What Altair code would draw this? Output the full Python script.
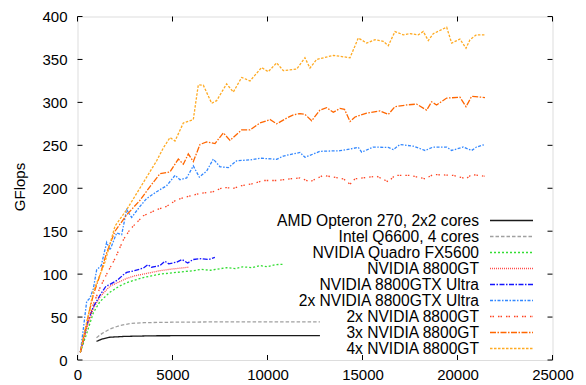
import altair as alt
import pandas as pd

series_names = [
    "AMD Opteron 270, 2x2 cores",
    "Intel Q6600, 4 cores",
    "NVIDIA Quadro FX5600",
    "NVIDIA 8800GT",
    "NVIDIA 8800GTX Ultra",
    "2x NVIDIA 8800GTX Ultra",
    "2x NVIDIA 8800GT",
    "3x NVIDIA 8800GT",
    "4x NVIDIA 8800GT",
]
colors = ["#1a1a1a", "#a0a0a0", "#33dd33", "#ff4d4d", "#1414ff",
          "#3388ff", "#ff4422", "#ff6600", "#ffaa22"]
dashes = [[1, 0], [3.5, 2], [2, 2], [1, 1], [5, 1.5, 1.5, 1.5],
          [3, 1.5, 1.5, 1.5], [1.5, 1, 1.5, 4], [6, 1.5, 1.5, 1.5], [2.5, 1.5]]

amd_x = [1000, 1300, 1700, 2500, 4000, 8000, 12760]
amd_y = [21.7, 24.5, 26.5, 27.5, 28.2, 28.5, 28.5]

intel_x = [1000, 1300, 1700, 2200, 2800, 3500, 5000, 8000, 12760]
intel_y = [26, 31, 36, 40, 42.5, 43.5, 44, 44.5, 44.5]

quadro_x = [150, 500, 833, 1180, 1710, 2200, 2590, 3000, 3460, 3900, 4340, 5200,
            6090, 6500, 7000, 7850, 8300, 8700, 9200, 9600, 10000, 10400, 10830]
quadro_y = [9, 32, 55, 68, 79, 86, 90, 93, 96, 98, 100, 102,
            104, 105.5, 104.5, 107.5, 106.5, 108.5, 107.5, 110, 108.5, 111, 111.5]

gt_x = [150, 500, 833, 1200, 1710, 2200, 2590, 3000, 3460, 3900, 4340, 5000, 5830]
gt_y = [9, 38, 60, 74, 86, 91, 95, 98, 100, 102, 104, 106, 108]

ultra_x = [150, 500, 833, 1200, 1500, 1710, 2100, 2400, 2590, 3000, 3460, 3700,
           3900, 4340, 4600, 4800, 5220, 5500, 5800, 6090, 6500, 6900, 7230]
ultra_y = [9, 42, 62, 76, 86, 88, 93, 99, 102, 104, 107, 111,
           108, 110, 115, 112, 114, 117, 113, 117, 118, 117, 119.5]

ultra2_x = [150, 300, 482, 650, 833, 1008, 1250, 1535, 1710, 2062,
            2325, 2588, 2850, 3290, 3640, 4167, 4693, 5132, 5394, 5745,
            6095, 6412, 6797, 7148, 7499, 7937, 8376, 9077, 9603, 10480,
            10830, 11710, 11973, 12760, 13814, 14780, 14955, 15570, 16358, 16620,
            16970, 17670, 18290, 18726, 19430, 19690, 20300, 20745, 21000, 21447]
ultra2_y = [9, 35, 68, 72, 83, 105, 110, 137, 128, 148,
            146, 175, 166, 179, 188, 196, 203, 215, 210, 212,
            226, 213, 220, 234, 225, 224, 232, 233, 235, 233.7,
            237.5, 241.7, 236, 243, 243.7, 247.5, 242, 248, 247.5, 245,
            251, 249, 244, 248, 248, 244, 248, 244, 248, 251]

gt2_x = [150, 500, 833, 1200, 1535, 1974, 2413, 2763, 3464, 4167,
         4693, 5218, 5745, 6446, 7148, 7674, 8200, 8640, 9165, 9780,
         10480, 11180, 11710, 12237, 12935, 13990, 14342, 14605, 15745, 16358,
         16710, 17500, 18290, 18726, 19780, 20447, 20745, 21447]
gt2_y = [9, 40, 65, 85, 100, 118, 140, 152, 168, 175,
         179, 186.6, 190, 194, 196, 201, 200, 203, 205, 209,
         209, 211, 212, 207.6, 215, 211, 204.6, 211, 214, 207.6,
         215, 215, 211, 216, 215, 211, 216, 214]

gt3_x = [150, 500, 833, 1200, 1535, 1974, 2588, 3290, 3816, 4342,
         4868, 5306, 5570, 5833, 6095, 6446, 6797, 7236, 7674, 8026,
         8640, 9080, 9605, 10130, 10480, 11010, 11360, 11710, 11970, 12325,
         12760, 13112, 13463, 13814, 14050, 14342, 14605, 15220, 15920, 16358,
         16710, 17325, 17850, 18375, 18640, 18900, 19430, 20130, 20447, 20745,
         21447]
gt3_y = [9, 45, 76, 100, 125, 150, 169, 186, 202, 217,
         219, 234, 228, 240, 231, 251, 254, 252, 264.5, 255.8,
         268, 268, 276, 280, 275, 281.7, 285.5, 287, 286, 278.6,
         291, 293.8, 288.5, 293, 292, 277.8, 283, 287.4, 290, 286,
         295, 297, 298, 291, 300.6, 297, 305, 306, 295, 307,
         305.6]

gt4_x = [150, 500, 833, 1200, 1447, 1974, 2588, 3114, 3640, 4167,
         4518, 4868, 5132, 5570, 6095, 6359, 6622, 7060, 7323, 7850,
         8200, 8640, 9080, 9690, 10040, 10480, 10830, 11535, 11970, 12235,
         12589, 13463, 14342, 14780, 15220, 15660, 16095, 16358, 16710, 17148,
         17500, 17937, 18200, 18463, 18726, 19430, 19693, 20130, 20447, 20657,
         21000, 21447]
gt4_y = [9, 45, 80, 100, 114, 156, 175, 194, 213, 232,
         247, 259, 255, 276, 280, 320.5, 320, 299, 302, 321.6,
         312, 329, 325, 340.6, 335.7, 346, 337, 338.8, 352, 340,
         350, 354.7, 352, 375, 369, 373, 371, 366, 382.5, 378.7,
         380, 378.7, 382.5, 372, 380, 387.5, 369, 373.7, 363, 373,
         378.7, 378.7]

x_ticks = [0, 5000, 10000, 15000, 20000, 25000]
y_ticks = [0, 50, 100, 150, 200, 250, 300, 350, 400]

all_x = [amd_x, intel_x, quadro_x, gt_x, ultra_x, ultra2_x, gt2_x, gt3_x, gt4_x]
all_y = [amd_y, intel_y, quadro_y, gt_y, ultra_y, ultra2_y, gt2_y, gt3_y, gt4_y]

rows = []
for name, xs, ys in zip(series_names, all_x, all_y):
    for i, (xv, yv) in enumerate(zip(xs, ys)):
        rows.append({"series": name, "size": xv, "gflops": yv, "order": i})
df = pd.DataFrame(rows)
legend_df = pd.DataFrame({"series": series_names})

W, H = 475, 343.5
FONT = "Liberation Sans"
TL = 5

xscale = alt.Scale(domain=[0, 25000], nice=False, zero=False)
yscale = alt.Scale(domain=[0, 400], nice=False, zero=False)
cscale = alt.Scale(domain=series_names, range=colors)
dscale = alt.Scale(domain=series_names, range=dashes)

x_axis = alt.Axis(values=x_ticks, title=None, ticks=False, tickSize=0,
                  domain=False, grid=False, labelPadding=7,
                  labelFontSize=15, labelFont=FONT, labelColor="black",
                  labelFlush=False, format="d")
y_axis = alt.Axis(values=y_ticks, title="GFlops", ticks=False, tickSize=0,
                  domain=False, grid=False, labelPadding=10.5,
                  labelFontSize=15, labelFont=FONT, labelColor="black",
                  titleFont=FONT, titleFontSize=15, titleFontWeight="normal",
                  titleColor="black", titleAngle=270, titleX=-58,
                  titleY=170, titleAlign="center", titleBaseline="middle",
                  format="d")

lines = alt.Chart(df).mark_line(strokeWidth=1.3).encode(
    x=alt.X("size:Q", scale=xscale, axis=x_axis),
    y=alt.Y("gflops:Q", scale=yscale, axis=y_axis),
    color=alt.Color("series:N", scale=cscale, legend=None),
    strokeDash=alt.StrokeDash("series:N", scale=dscale, legend=None),
    order="order:Q",
)

xt = pd.DataFrame({"t": x_ticks})
yt = pd.DataFrame({"t": y_ticks})

tick_bottom = alt.Chart(xt).mark_rule(color="black", strokeWidth=1).encode(
    x=alt.X("t:Q", scale=xscale, axis=x_axis), y=alt.value(H), y2=alt.value(H - TL))
tick_top = alt.Chart(xt).mark_rule(color="black", strokeWidth=1).encode(
    x=alt.X("t:Q", scale=xscale, axis=x_axis), y=alt.value(0), y2=alt.value(TL))
tick_left = alt.Chart(yt).mark_rule(color="black", strokeWidth=1).encode(
    y=alt.Y("t:Q", scale=yscale, axis=None), x=alt.value(0), x2=alt.value(TL))
tick_right = alt.Chart(yt).mark_rule(color="black", strokeWidth=1).encode(
    y=alt.Y("t:Q", scale=yscale, axis=None), x=alt.value(W), x2=alt.value(W - TL))

leg_y = alt.Y("series:N", scale=alt.Scale(type="point", domain=series_names,
                                         range=[204, 332], padding=0), axis=None)
leg_text = alt.Chart(legend_df).mark_text(
    align="right", baseline="middle", fontSize=15.6, font=FONT, color="black"
).encode(y=leg_y, x=alt.value(401.5), text="series:N")
leg_rule = alt.Chart(legend_df).mark_rule(strokeWidth=1.5).encode(
    y=leg_y, x=alt.value(412.5), x2=alt.value(455.5),
    color=alt.Color("series:N", scale=cscale, legend=None),
    strokeDash=alt.StrokeDash("series:N", scale=dscale, legend=None),
)

chart = alt.layer(
    lines, tick_bottom, tick_top, tick_left, tick_right, leg_text, leg_rule
).resolve_scale(y="independent").properties(
    width=W, height=H,
    autosize=alt.AutoSizeParams(type="none"),
    padding={"left": 69.5, "top": 8.5, "right": 25, "bottom": 24},
).configure_view(stroke="black", strokeWidth=1.3).configure(background="white")

chart.save("out.html", embed_options={"renderer": "svg", "actions": False})
